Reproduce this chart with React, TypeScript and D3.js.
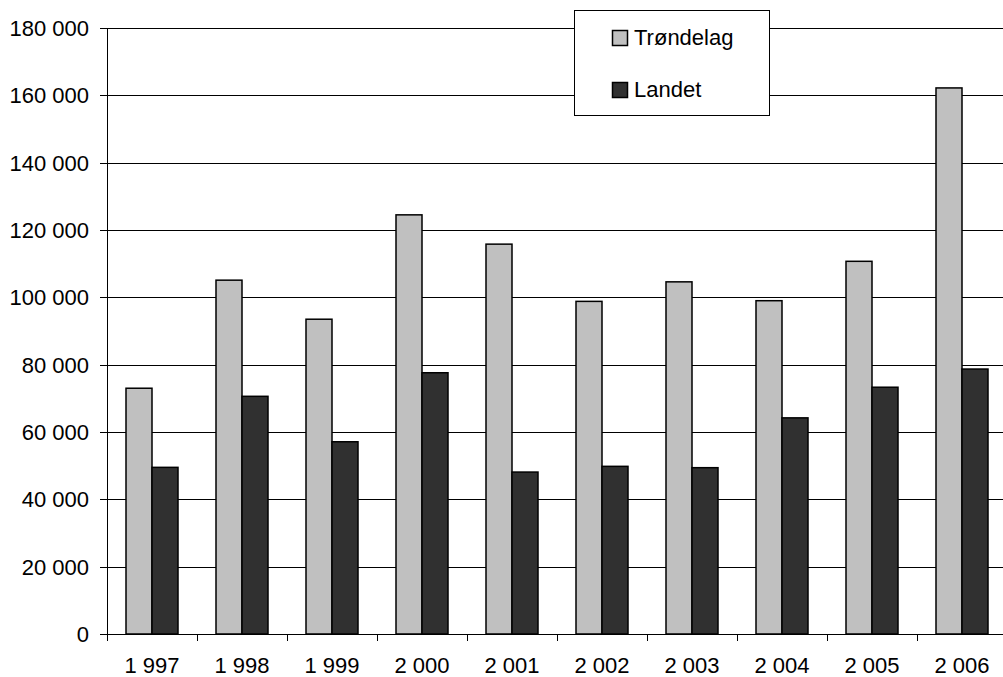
import React from "react";
import * as d3 from "d3";

const years = ["1 997", "1 998", "1 999", "2 000", "2 001", "2 002", "2 003", "2 004", "2 005", "2 006"];
const seriesNames = ["Trøndelag", "Landet"];
const trondelag = [73000, 105100, 93500, 124500, 115800, 98800, 104600, 99000, 110700, 162200];
const landet = [49500, 70600, 57100, 77600, 48100, 49800, 49400, 64200, 73300, 78700];
const yTicks = [0, 20000, 40000, 60000, 80000, 100000, 120000, 140000, 160000, 180000];
const colors = ["#c0c0c0", "#303030"];

const W = 1003;
const H = 677;
const left = 107;
const right = 1007;
const top = 28;
const bottom = 634;
const FONT = "'Liberation Sans', Arial, sans-serif";

const fmt = (v: number) => {
  const s = String(v);
  return s.replace(/\B(?=(\d{3})+(?!\d))/g, " ");
};

export default function App() {
  const x0 = d3.scaleBand<string>().domain(years).range([left, right]).paddingInner(38 / 90).paddingOuter(19 / 90);
  const x1 = d3.scaleBand<string>().domain(seriesNames).range([0, x0.bandwidth()]);
  const y = d3.scaleLinear().domain([0, 180000]).range([bottom, top]);
  const step = x0.step();
  const data = [trondelag, landet];

  return (
    <svg width={W} height={H} style={{ position: "absolute", left: 0, top: 0, background: "#fff" }} fontFamily={FONT}>
      <rect x={0} y={0} width={W} height={H} fill="#fff" />
      {yTicks.map((t) => (
        <g key={t}>
          <line x1={left - 7} x2={right} y1={Math.round(y(t)) + 0.5} y2={Math.round(y(t)) + 0.5} stroke="#000" strokeWidth={1} />
          <text x={89} y={y(t) + 8} textAnchor="end" fontSize={22} fill="#000">{fmt(t)}</text>
        </g>
      ))}
      {years.map((yr, i) => (
        <line key={"t" + yr} x1={left + i * step + 0.5} x2={left + i * step + 0.5} y1={bottom} y2={bottom + 7} stroke="#000" />
      ))}
      {years.map((yr) => (
        <text key={"l" + yr} x={(x0(yr) as number) + x0.bandwidth() / 2} y={673} textAnchor="middle" fontSize={22} fill="#000">{yr}</text>
      ))}
      {years.map((yr, i) =>
        seriesNames.map((s, j) => {
          const v = data[j][i];
          const bx = (x0(yr) as number) + (x1(s) as number);
          return (
            <rect key={yr + s} x={bx} y={y(v)} width={x1.bandwidth()} height={bottom - y(v)} fill={colors[j]} stroke="#000" strokeWidth={1.5} />
          );
        })
      )}
      <line x1={left + 0.5} x2={left + 0.5} y1={top} y2={bottom + 7} stroke="#000" />
      <line x1={left} x2={right} y1={bottom + 0.5} y2={bottom + 0.5} stroke="#000" />
      <rect x={574.5} y={10.5} width={195} height={105} fill="#fff" stroke="#000" strokeWidth={1} />
      {seriesNames.map((s, j) => (
        <g key={"lg" + s}>
          <rect x={612.5} y={30.5 + j * 52} width={15} height={15} fill={colors[j]} stroke="#000" strokeWidth={1.5} />
          <text x={634} y={45 + j * 52} fontSize={22} fill="#000">{s}</text>
        </g>
      ))}
    </svg>
  );
}
